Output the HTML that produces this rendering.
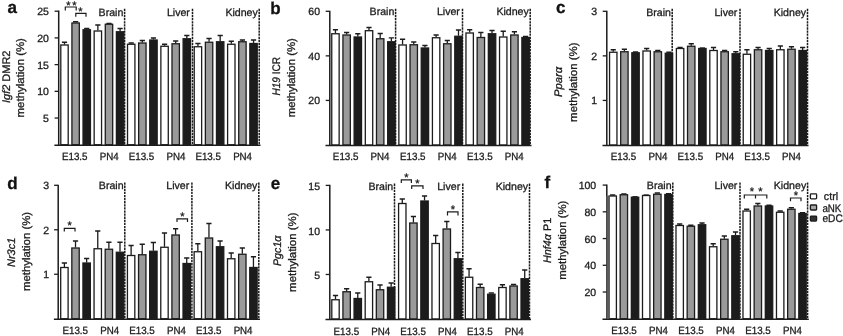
<!DOCTYPE html>
<html lang="en"><head><meta charset="utf-8"><title>Figure</title>
<style>html,body{margin:0;padding:0;background:#fff}svg{display:block}text{stroke:#1c1c1c;stroke-width:0.3px}</style>
</head><body>
<svg width="843" height="336" viewBox="0 0 843 336" text-rendering="geometricPrecision" font-family='"Liberation Sans", sans-serif' fill="#1c1c1c">
<rect width="843" height="336" fill="#fff"/>
<g id="panel-a">
<path d="M64.50 44.50V42.25M61.90 42.25H67.10" stroke="#1c1c1c" stroke-width="1.3" fill="none"/>
<rect x="60.80" y="45.00" width="7.4" height="99.75" fill="#ffffff" stroke="#1c1c1c" stroke-width="1.3"/>
<path d="M75.62 22.50V21.75M73.02 21.75H78.22" stroke="#1c1c1c" stroke-width="1.3" fill="none"/>
<rect x="71.92" y="23.00" width="7.4" height="121.75" fill="#9a9a9a" stroke="#1c1c1c" stroke-width="1.3"/>
<path d="M86.74 29.25V28.50M84.14 28.50H89.34" stroke="#1c1c1c" stroke-width="1.3" fill="none"/>
<rect x="83.04" y="29.75" width="7.4" height="115.00" fill="#1c1c1c" stroke="#1c1c1c" stroke-width="1.3"/>
<path d="M97.86 30.50V25.00M95.26 25.00H100.46" stroke="#1c1c1c" stroke-width="1.3" fill="none"/>
<rect x="94.16" y="31.00" width="7.4" height="113.75" fill="#ffffff" stroke="#1c1c1c" stroke-width="1.3"/>
<path d="M108.98 23.75V23.50M106.38 23.50H111.58" stroke="#1c1c1c" stroke-width="1.3" fill="none"/>
<rect x="105.28" y="24.25" width="7.4" height="120.50" fill="#9a9a9a" stroke="#1c1c1c" stroke-width="1.3"/>
<path d="M120.10 31.25V28.50M117.50 28.50H122.70" stroke="#1c1c1c" stroke-width="1.3" fill="none"/>
<rect x="116.40" y="31.75" width="7.4" height="113.00" fill="#1c1c1c" stroke="#1c1c1c" stroke-width="1.3"/>
<path d="M131.22 43.75V43.00M128.62 43.00H133.82" stroke="#1c1c1c" stroke-width="1.3" fill="none"/>
<rect x="127.52" y="44.25" width="7.4" height="100.50" fill="#ffffff" stroke="#1c1c1c" stroke-width="1.3"/>
<path d="M142.34 42.50V40.50M139.74 40.50H144.94" stroke="#1c1c1c" stroke-width="1.3" fill="none"/>
<rect x="138.64" y="43.00" width="7.4" height="101.75" fill="#9a9a9a" stroke="#1c1c1c" stroke-width="1.3"/>
<path d="M153.46 39.50V38.00M150.86 38.00H156.06" stroke="#1c1c1c" stroke-width="1.3" fill="none"/>
<rect x="149.76" y="40.00" width="7.4" height="104.75" fill="#1c1c1c" stroke="#1c1c1c" stroke-width="1.3"/>
<path d="M164.58 45.75V44.25M161.98 44.25H167.18" stroke="#1c1c1c" stroke-width="1.3" fill="none"/>
<rect x="160.88" y="46.25" width="7.4" height="98.50" fill="#ffffff" stroke="#1c1c1c" stroke-width="1.3"/>
<path d="M175.70 43.25V41.00M173.10 41.00H178.30" stroke="#1c1c1c" stroke-width="1.3" fill="none"/>
<rect x="172.00" y="43.75" width="7.4" height="101.00" fill="#9a9a9a" stroke="#1c1c1c" stroke-width="1.3"/>
<path d="M186.82 38.25V35.50M184.22 35.50H189.42" stroke="#1c1c1c" stroke-width="1.3" fill="none"/>
<rect x="183.12" y="38.75" width="7.4" height="106.00" fill="#1c1c1c" stroke="#1c1c1c" stroke-width="1.3"/>
<path d="M197.94 46.25V43.50M195.34 43.50H200.54" stroke="#1c1c1c" stroke-width="1.3" fill="none"/>
<rect x="194.24" y="46.75" width="7.4" height="98.00" fill="#ffffff" stroke="#1c1c1c" stroke-width="1.3"/>
<path d="M209.06 41.75V38.50M206.46 38.50H211.66" stroke="#1c1c1c" stroke-width="1.3" fill="none"/>
<rect x="205.36" y="42.25" width="7.4" height="102.50" fill="#9a9a9a" stroke="#1c1c1c" stroke-width="1.3"/>
<path d="M220.18 41.25V35.50M217.58 35.50H222.78" stroke="#1c1c1c" stroke-width="1.3" fill="none"/>
<rect x="216.48" y="41.75" width="7.4" height="103.00" fill="#1c1c1c" stroke="#1c1c1c" stroke-width="1.3"/>
<path d="M231.30 43.75V41.25M228.70 41.25H233.90" stroke="#1c1c1c" stroke-width="1.3" fill="none"/>
<rect x="227.60" y="44.25" width="7.4" height="100.50" fill="#ffffff" stroke="#1c1c1c" stroke-width="1.3"/>
<path d="M242.42 41.25V40.00M239.82 40.00H245.02" stroke="#1c1c1c" stroke-width="1.3" fill="none"/>
<rect x="238.72" y="41.75" width="7.4" height="103.00" fill="#9a9a9a" stroke="#1c1c1c" stroke-width="1.3"/>
<path d="M253.54 43.00V40.00M250.94 40.00H256.14" stroke="#1c1c1c" stroke-width="1.3" fill="none"/>
<rect x="249.84" y="43.50" width="7.4" height="101.25" fill="#1c1c1c" stroke="#1c1c1c" stroke-width="1.3"/>
<line x1="124.6" y1="8.75" x2="124.6" y2="144.75" stroke="#1c1c1c" stroke-width="1.5" stroke-dasharray="2.3 0.8"/>
<line x1="192.5" y1="8.75" x2="192.5" y2="144.75" stroke="#1c1c1c" stroke-width="1.5" stroke-dasharray="2.3 0.8"/>
<line x1="259.2" y1="8.75" x2="259.2" y2="144.75" stroke="#1c1c1c" stroke-width="1.5" stroke-dasharray="2.3 0.8"/>
<path d="M58.699999999999996 10.6V145.95M54.4 145.25H260.5" stroke="#1c1c1c" stroke-width="1.5" fill="none"/>
<line x1="54.6" y1="11.20" x2="58.4" y2="11.20" stroke="#1c1c1c" stroke-width="1.3"/>
<text x="48.9" y="15.20" font-size="10.5" text-anchor="end">25</text>
<line x1="54.6" y1="37.91" x2="58.4" y2="37.91" stroke="#1c1c1c" stroke-width="1.3"/>
<text x="48.9" y="41.91" font-size="10.5" text-anchor="end">20</text>
<line x1="54.6" y1="64.62" x2="58.4" y2="64.62" stroke="#1c1c1c" stroke-width="1.3"/>
<text x="48.9" y="68.62" font-size="10.5" text-anchor="end">15</text>
<line x1="54.6" y1="91.33" x2="58.4" y2="91.33" stroke="#1c1c1c" stroke-width="1.3"/>
<text x="48.9" y="95.33" font-size="10.5" text-anchor="end">10</text>
<line x1="54.6" y1="118.04" x2="58.4" y2="118.04" stroke="#1c1c1c" stroke-width="1.3"/>
<text x="48.9" y="122.04" font-size="10.5" text-anchor="end">5</text>
<text x="74.74" y="159.75" font-size="10.5" text-anchor="middle" textLength="25.6" lengthAdjust="spacingAndGlyphs">E13.5</text>
<text x="109.14" y="159.75" font-size="10.5" text-anchor="middle" textLength="18.9" lengthAdjust="spacingAndGlyphs">PN4</text>
<text x="141.46" y="159.75" font-size="10.5" text-anchor="middle" textLength="25.6" lengthAdjust="spacingAndGlyphs">E13.5</text>
<text x="175.86" y="159.75" font-size="10.5" text-anchor="middle" textLength="18.9" lengthAdjust="spacingAndGlyphs">PN4</text>
<text x="208.18" y="159.75" font-size="10.5" text-anchor="middle" textLength="25.6" lengthAdjust="spacingAndGlyphs">E13.5</text>
<text x="242.58" y="159.75" font-size="10.5" text-anchor="middle" textLength="18.9" lengthAdjust="spacingAndGlyphs">PN4</text>
<text x="123.35" y="15.90" font-size="10.6" text-anchor="end">Brain</text>
<text x="189.90" y="15.90" font-size="10.6" text-anchor="end">Liver</text>
<text x="257.80" y="15.90" font-size="10.6" text-anchor="end">Kidney</text>
<text x="7.6" y="13.4" font-size="17" font-weight="bold" fill="#111">a</text>
<text transform="translate(10 76.80) rotate(-90)" font-size="11" text-anchor="middle" textLength="52.4" lengthAdjust="spacingAndGlyphs"><tspan font-style="italic">Igf2</tspan> DMR2</text>
<text transform="translate(24.4 77.75) rotate(-90)" font-size="11" text-anchor="middle" textLength="79.3" lengthAdjust="spacingAndGlyphs">methylation (%)</text>
</g>
<g id="panel-b">
<path d="M335.45 33.25V29.75M332.85 29.75H338.05" stroke="#1c1c1c" stroke-width="1.3" fill="none"/>
<rect x="331.75" y="33.75" width="7.4" height="111.25" fill="#ffffff" stroke="#1c1c1c" stroke-width="1.3"/>
<path d="M346.63 34.50V32.50M344.03 32.50H349.24" stroke="#1c1c1c" stroke-width="1.3" fill="none"/>
<rect x="342.94" y="35.00" width="7.4" height="110.00" fill="#9a9a9a" stroke="#1c1c1c" stroke-width="1.3"/>
<path d="M357.82 36.50V33.75M355.22 33.75H360.42" stroke="#1c1c1c" stroke-width="1.3" fill="none"/>
<rect x="354.12" y="37.00" width="7.4" height="108.00" fill="#1c1c1c" stroke="#1c1c1c" stroke-width="1.3"/>
<path d="M369.00 30.20V27.50M366.40 27.50H371.61" stroke="#1c1c1c" stroke-width="1.3" fill="none"/>
<rect x="365.31" y="30.70" width="7.4" height="114.30" fill="#ffffff" stroke="#1c1c1c" stroke-width="1.3"/>
<path d="M380.19 38.25V33.50M377.59 33.50H382.79" stroke="#1c1c1c" stroke-width="1.3" fill="none"/>
<rect x="376.49" y="38.75" width="7.4" height="106.25" fill="#9a9a9a" stroke="#1c1c1c" stroke-width="1.3"/>
<path d="M391.38 41.25V37.90M388.77 37.90H393.98" stroke="#1c1c1c" stroke-width="1.3" fill="none"/>
<rect x="387.68" y="41.75" width="7.4" height="103.25" fill="#1c1c1c" stroke="#1c1c1c" stroke-width="1.3"/>
<path d="M402.56 44.50V39.25M399.96 39.25H405.16" stroke="#1c1c1c" stroke-width="1.3" fill="none"/>
<rect x="398.86" y="45.00" width="7.4" height="100.00" fill="#ffffff" stroke="#1c1c1c" stroke-width="1.3"/>
<path d="M413.75 44.25V42.00M411.14 42.00H416.35" stroke="#1c1c1c" stroke-width="1.3" fill="none"/>
<rect x="410.05" y="44.75" width="7.4" height="100.25" fill="#9a9a9a" stroke="#1c1c1c" stroke-width="1.3"/>
<path d="M424.93 47.50V45.50M422.33 45.50H427.53" stroke="#1c1c1c" stroke-width="1.3" fill="none"/>
<rect x="421.23" y="48.00" width="7.4" height="97.00" fill="#1c1c1c" stroke="#1c1c1c" stroke-width="1.3"/>
<path d="M436.12 37.25V35.00M433.51 35.00H438.72" stroke="#1c1c1c" stroke-width="1.3" fill="none"/>
<rect x="432.42" y="37.75" width="7.4" height="107.25" fill="#ffffff" stroke="#1c1c1c" stroke-width="1.3"/>
<path d="M447.30 43.25V40.50M444.70 40.50H449.90" stroke="#1c1c1c" stroke-width="1.3" fill="none"/>
<rect x="443.60" y="43.75" width="7.4" height="101.25" fill="#9a9a9a" stroke="#1c1c1c" stroke-width="1.3"/>
<path d="M458.49 35.75V30.00M455.88 30.00H461.09" stroke="#1c1c1c" stroke-width="1.3" fill="none"/>
<rect x="454.79" y="36.25" width="7.4" height="108.75" fill="#1c1c1c" stroke="#1c1c1c" stroke-width="1.3"/>
<path d="M469.67 32.50V29.75M467.07 29.75H472.27" stroke="#1c1c1c" stroke-width="1.3" fill="none"/>
<rect x="465.97" y="33.00" width="7.4" height="112.00" fill="#ffffff" stroke="#1c1c1c" stroke-width="1.3"/>
<path d="M480.86 37.00V32.50M478.25 32.50H483.46" stroke="#1c1c1c" stroke-width="1.3" fill="none"/>
<rect x="477.16" y="37.50" width="7.4" height="107.50" fill="#9a9a9a" stroke="#1c1c1c" stroke-width="1.3"/>
<path d="M492.04 33.25V30.50M489.44 30.50H494.64" stroke="#1c1c1c" stroke-width="1.3" fill="none"/>
<rect x="488.34" y="33.75" width="7.4" height="111.25" fill="#1c1c1c" stroke="#1c1c1c" stroke-width="1.3"/>
<path d="M503.23 36.50V31.25M500.62 31.25H505.83" stroke="#1c1c1c" stroke-width="1.3" fill="none"/>
<rect x="499.53" y="37.00" width="7.4" height="108.00" fill="#ffffff" stroke="#1c1c1c" stroke-width="1.3"/>
<path d="M514.41 34.50V31.75M511.81 31.75H517.01" stroke="#1c1c1c" stroke-width="1.3" fill="none"/>
<rect x="510.71" y="35.00" width="7.4" height="110.00" fill="#9a9a9a" stroke="#1c1c1c" stroke-width="1.3"/>
<path d="M525.60 37.00V36.50M523.00 36.50H528.20" stroke="#1c1c1c" stroke-width="1.3" fill="none"/>
<rect x="521.89" y="37.50" width="7.4" height="107.50" fill="#1c1c1c" stroke="#1c1c1c" stroke-width="1.3"/>
<line x1="395.6" y1="8.75" x2="395.6" y2="145" stroke="#1c1c1c" stroke-width="1.5" stroke-dasharray="2.3 0.8"/>
<line x1="462.5" y1="8.75" x2="462.5" y2="145" stroke="#1c1c1c" stroke-width="1.5" stroke-dasharray="2.3 0.8"/>
<line x1="530.2" y1="8.75" x2="530.2" y2="145" stroke="#1c1c1c" stroke-width="1.5" stroke-dasharray="2.3 0.8"/>
<path d="M329.8 10.700000000000001V146.2M325.5 145.5H531.5" stroke="#1c1c1c" stroke-width="1.5" fill="none"/>
<line x1="325.7" y1="11.30" x2="329.5" y2="11.30" stroke="#1c1c1c" stroke-width="1.3"/>
<text x="320.0" y="15.30" font-size="10.5" text-anchor="end">60</text>
<line x1="325.7" y1="55.87" x2="329.5" y2="55.87" stroke="#1c1c1c" stroke-width="1.3"/>
<text x="320.0" y="59.87" font-size="10.5" text-anchor="end">40</text>
<line x1="325.7" y1="100.43" x2="329.5" y2="100.43" stroke="#1c1c1c" stroke-width="1.3"/>
<text x="320.0" y="104.43" font-size="10.5" text-anchor="end">20</text>
<text x="345.66" y="160.00" font-size="10.5" text-anchor="middle" textLength="25.6" lengthAdjust="spacingAndGlyphs">E13.5</text>
<text x="380.06" y="160.00" font-size="10.5" text-anchor="middle" textLength="18.9" lengthAdjust="spacingAndGlyphs">PN4</text>
<text x="412.77" y="160.00" font-size="10.5" text-anchor="middle" textLength="25.6" lengthAdjust="spacingAndGlyphs">E13.5</text>
<text x="447.17" y="160.00" font-size="10.5" text-anchor="middle" textLength="18.9" lengthAdjust="spacingAndGlyphs">PN4</text>
<text x="479.88" y="160.00" font-size="10.5" text-anchor="middle" textLength="25.6" lengthAdjust="spacingAndGlyphs">E13.5</text>
<text x="514.28" y="160.00" font-size="10.5" text-anchor="middle" textLength="18.9" lengthAdjust="spacingAndGlyphs">PN4</text>
<text x="394.35" y="15.30" font-size="10.6" text-anchor="end">Brain</text>
<text x="459.90" y="15.30" font-size="10.6" text-anchor="end">Liver</text>
<text x="528.80" y="15.30" font-size="10.6" text-anchor="end">Kidney</text>
<text x="270.3" y="13.6" font-size="17" font-weight="bold" fill="#111">b</text>
<text transform="translate(280.4 76.25) rotate(-90)" font-size="11" text-anchor="middle" textLength="38.7" lengthAdjust="spacingAndGlyphs"><tspan font-style="italic">H19</tspan> ICR</text>
<text transform="translate(294.7 77.70) rotate(-90)" font-size="11" text-anchor="middle" textLength="79.2" lengthAdjust="spacingAndGlyphs">methylation (%)</text>
</g>
<g id="panel-c">
<path d="M613.25 51.75V49.75M610.65 49.75H615.85" stroke="#1c1c1c" stroke-width="1.3" fill="none"/>
<rect x="609.55" y="52.25" width="7.4" height="92.75" fill="#ffffff" stroke="#1c1c1c" stroke-width="1.3"/>
<path d="M624.39 51.25V49.25M621.79 49.25H626.99" stroke="#1c1c1c" stroke-width="1.3" fill="none"/>
<rect x="620.69" y="51.75" width="7.4" height="93.25" fill="#9a9a9a" stroke="#1c1c1c" stroke-width="1.3"/>
<path d="M635.53 52.25V52.00M632.93 52.00H638.13" stroke="#1c1c1c" stroke-width="1.3" fill="none"/>
<rect x="631.83" y="52.75" width="7.4" height="92.25" fill="#1c1c1c" stroke="#1c1c1c" stroke-width="1.3"/>
<path d="M646.67 50.50V48.50M644.07 48.50H649.27" stroke="#1c1c1c" stroke-width="1.3" fill="none"/>
<rect x="642.97" y="51.00" width="7.4" height="94.00" fill="#ffffff" stroke="#1c1c1c" stroke-width="1.3"/>
<path d="M657.81 51.25V50.50M655.21 50.50H660.41" stroke="#1c1c1c" stroke-width="1.3" fill="none"/>
<rect x="654.11" y="51.75" width="7.4" height="93.25" fill="#9a9a9a" stroke="#1c1c1c" stroke-width="1.3"/>
<path d="M668.95 52.75V52.25M666.35 52.25H671.55" stroke="#1c1c1c" stroke-width="1.3" fill="none"/>
<rect x="665.25" y="53.25" width="7.4" height="91.75" fill="#1c1c1c" stroke="#1c1c1c" stroke-width="1.3"/>
<path d="M680.09 48.00V47.50M677.49 47.50H682.69" stroke="#1c1c1c" stroke-width="1.3" fill="none"/>
<rect x="676.39" y="48.50" width="7.4" height="96.50" fill="#ffffff" stroke="#1c1c1c" stroke-width="1.3"/>
<path d="M691.23 45.75V43.75M688.63 43.75H693.83" stroke="#1c1c1c" stroke-width="1.3" fill="none"/>
<rect x="687.53" y="46.25" width="7.4" height="98.75" fill="#9a9a9a" stroke="#1c1c1c" stroke-width="1.3"/>
<path d="M702.37 48.00V48.00M699.77 48.00H704.97" stroke="#1c1c1c" stroke-width="1.3" fill="none"/>
<rect x="698.67" y="48.50" width="7.4" height="96.50" fill="#1c1c1c" stroke="#1c1c1c" stroke-width="1.3"/>
<path d="M713.51 50.00V47.50M710.91 47.50H716.11" stroke="#1c1c1c" stroke-width="1.3" fill="none"/>
<rect x="709.81" y="50.50" width="7.4" height="94.50" fill="#ffffff" stroke="#1c1c1c" stroke-width="1.3"/>
<path d="M724.65 51.25V50.50M722.05 50.50H727.25" stroke="#1c1c1c" stroke-width="1.3" fill="none"/>
<rect x="720.95" y="51.75" width="7.4" height="93.25" fill="#9a9a9a" stroke="#1c1c1c" stroke-width="1.3"/>
<path d="M735.79 53.25V51.75M733.19 51.75H738.39" stroke="#1c1c1c" stroke-width="1.3" fill="none"/>
<rect x="732.09" y="53.75" width="7.4" height="91.25" fill="#1c1c1c" stroke="#1c1c1c" stroke-width="1.3"/>
<path d="M746.93 53.75V49.75M744.33 49.75H749.53" stroke="#1c1c1c" stroke-width="1.3" fill="none"/>
<rect x="743.23" y="54.25" width="7.4" height="90.75" fill="#ffffff" stroke="#1c1c1c" stroke-width="1.3"/>
<path d="M758.07 49.25V47.50M755.47 47.50H760.67" stroke="#1c1c1c" stroke-width="1.3" fill="none"/>
<rect x="754.37" y="49.75" width="7.4" height="95.25" fill="#9a9a9a" stroke="#1c1c1c" stroke-width="1.3"/>
<path d="M769.21 50.00V48.50M766.61 48.50H771.81" stroke="#1c1c1c" stroke-width="1.3" fill="none"/>
<rect x="765.51" y="50.50" width="7.4" height="94.50" fill="#1c1c1c" stroke="#1c1c1c" stroke-width="1.3"/>
<path d="M780.35 49.25V46.00M777.75 46.00H782.95" stroke="#1c1c1c" stroke-width="1.3" fill="none"/>
<rect x="776.65" y="49.75" width="7.4" height="95.25" fill="#ffffff" stroke="#1c1c1c" stroke-width="1.3"/>
<path d="M791.49 48.75V46.75M788.89 46.75H794.09" stroke="#1c1c1c" stroke-width="1.3" fill="none"/>
<rect x="787.79" y="49.25" width="7.4" height="95.75" fill="#9a9a9a" stroke="#1c1c1c" stroke-width="1.3"/>
<path d="M802.63 50.00V47.50M800.03 47.50H805.23" stroke="#1c1c1c" stroke-width="1.3" fill="none"/>
<rect x="798.93" y="50.50" width="7.4" height="94.50" fill="#1c1c1c" stroke="#1c1c1c" stroke-width="1.3"/>
<line x1="672.2" y1="8.75" x2="672.2" y2="145" stroke="#1c1c1c" stroke-width="1.5" stroke-dasharray="2.3 0.8"/>
<line x1="740" y1="8.75" x2="740" y2="145" stroke="#1c1c1c" stroke-width="1.5" stroke-dasharray="2.3 0.8"/>
<line x1="807.5" y1="8.75" x2="807.5" y2="145" stroke="#1c1c1c" stroke-width="1.5" stroke-dasharray="2.3 0.8"/>
<path d="M606.8 10.700000000000001V146.2M602.5 145.5H808.5" stroke="#1c1c1c" stroke-width="1.5" fill="none"/>
<line x1="602.7" y1="11.30" x2="606.5" y2="11.30" stroke="#1c1c1c" stroke-width="1.3"/>
<text x="597.0" y="15.30" font-size="10.5" text-anchor="end">3</text>
<line x1="602.7" y1="55.87" x2="606.5" y2="55.87" stroke="#1c1c1c" stroke-width="1.3"/>
<text x="597.0" y="59.87" font-size="10.5" text-anchor="end">2</text>
<line x1="602.7" y1="100.43" x2="606.5" y2="100.43" stroke="#1c1c1c" stroke-width="1.3"/>
<text x="597.0" y="104.43" font-size="10.5" text-anchor="end">1</text>
<text x="623.48" y="160.00" font-size="10.5" text-anchor="middle" textLength="25.6" lengthAdjust="spacingAndGlyphs">E13.5</text>
<text x="657.88" y="160.00" font-size="10.5" text-anchor="middle" textLength="18.9" lengthAdjust="spacingAndGlyphs">PN4</text>
<text x="690.32" y="160.00" font-size="10.5" text-anchor="middle" textLength="25.6" lengthAdjust="spacingAndGlyphs">E13.5</text>
<text x="724.72" y="160.00" font-size="10.5" text-anchor="middle" textLength="18.9" lengthAdjust="spacingAndGlyphs">PN4</text>
<text x="757.16" y="160.00" font-size="10.5" text-anchor="middle" textLength="25.6" lengthAdjust="spacingAndGlyphs">E13.5</text>
<text x="791.56" y="160.00" font-size="10.5" text-anchor="middle" textLength="18.9" lengthAdjust="spacingAndGlyphs">PN4</text>
<text x="670.95" y="15.90" font-size="10.6" text-anchor="end">Brain</text>
<text x="737.40" y="15.90" font-size="10.6" text-anchor="end">Liver</text>
<text x="806.10" y="15.90" font-size="10.6" text-anchor="end">Kidney</text>
<text x="556.0" y="13.4" font-size="17" font-weight="bold" fill="#111">c</text>
<text transform="translate(562 81.95) rotate(-90)" font-size="11" text-anchor="middle" textLength="30.1" lengthAdjust="spacingAndGlyphs"><tspan font-style="italic">Pparα</tspan></text>
<text transform="translate(577.4 82.20) rotate(-90)" font-size="11" text-anchor="middle" textLength="79.4" lengthAdjust="spacingAndGlyphs">methylation (%)</text>
</g>
<g id="panel-d">
<path d="M64.40 267.00V263.00M61.80 263.00H67.00" stroke="#1c1c1c" stroke-width="1.3" fill="none"/>
<rect x="60.70" y="267.50" width="7.4" height="51.25" fill="#ffffff" stroke="#1c1c1c" stroke-width="1.3"/>
<path d="M75.52 247.50V241.00M72.92 241.00H78.12" stroke="#1c1c1c" stroke-width="1.3" fill="none"/>
<rect x="71.82" y="248.00" width="7.4" height="70.75" fill="#9a9a9a" stroke="#1c1c1c" stroke-width="1.3"/>
<path d="M86.64 262.50V258.50M84.04 258.50H89.24" stroke="#1c1c1c" stroke-width="1.3" fill="none"/>
<rect x="82.94" y="263.00" width="7.4" height="55.75" fill="#1c1c1c" stroke="#1c1c1c" stroke-width="1.3"/>
<path d="M97.76 248.25V231.00M95.16 231.00H100.36" stroke="#1c1c1c" stroke-width="1.3" fill="none"/>
<rect x="94.06" y="248.75" width="7.4" height="70.00" fill="#ffffff" stroke="#1c1c1c" stroke-width="1.3"/>
<path d="M108.88 248.75V242.25M106.28 242.25H111.48" stroke="#1c1c1c" stroke-width="1.3" fill="none"/>
<rect x="105.18" y="249.25" width="7.4" height="69.50" fill="#9a9a9a" stroke="#1c1c1c" stroke-width="1.3"/>
<path d="M120.00 251.75V242.25M117.40 242.25H122.60" stroke="#1c1c1c" stroke-width="1.3" fill="none"/>
<rect x="116.30" y="252.25" width="7.4" height="66.50" fill="#1c1c1c" stroke="#1c1c1c" stroke-width="1.3"/>
<path d="M131.12 255.00V245.50M128.52 245.50H133.72" stroke="#1c1c1c" stroke-width="1.3" fill="none"/>
<rect x="127.42" y="255.50" width="7.4" height="63.25" fill="#ffffff" stroke="#1c1c1c" stroke-width="1.3"/>
<path d="M142.24 254.25V244.25M139.64 244.25H144.84" stroke="#1c1c1c" stroke-width="1.3" fill="none"/>
<rect x="138.54" y="254.75" width="7.4" height="64.00" fill="#9a9a9a" stroke="#1c1c1c" stroke-width="1.3"/>
<path d="M153.36 250.75V242.50M150.76 242.50H155.96" stroke="#1c1c1c" stroke-width="1.3" fill="none"/>
<rect x="149.66" y="251.25" width="7.4" height="67.50" fill="#1c1c1c" stroke="#1c1c1c" stroke-width="1.3"/>
<path d="M164.48 246.75V233.00M161.88 233.00H167.08" stroke="#1c1c1c" stroke-width="1.3" fill="none"/>
<rect x="160.78" y="247.25" width="7.4" height="71.50" fill="#ffffff" stroke="#1c1c1c" stroke-width="1.3"/>
<path d="M175.60 234.50V228.75M173.00 228.75H178.20" stroke="#1c1c1c" stroke-width="1.3" fill="none"/>
<rect x="171.90" y="235.00" width="7.4" height="83.75" fill="#9a9a9a" stroke="#1c1c1c" stroke-width="1.3"/>
<path d="M186.72 263.00V258.00M184.12 258.00H189.32" stroke="#1c1c1c" stroke-width="1.3" fill="none"/>
<rect x="183.02" y="263.50" width="7.4" height="55.25" fill="#1c1c1c" stroke="#1c1c1c" stroke-width="1.3"/>
<path d="M197.84 251.25V243.75M195.24 243.75H200.44" stroke="#1c1c1c" stroke-width="1.3" fill="none"/>
<rect x="194.14" y="251.75" width="7.4" height="67.00" fill="#ffffff" stroke="#1c1c1c" stroke-width="1.3"/>
<path d="M208.96 237.50V223.50M206.36 223.50H211.56" stroke="#1c1c1c" stroke-width="1.3" fill="none"/>
<rect x="205.26" y="238.00" width="7.4" height="80.75" fill="#9a9a9a" stroke="#1c1c1c" stroke-width="1.3"/>
<path d="M220.08 246.25V241.00M217.48 241.00H222.68" stroke="#1c1c1c" stroke-width="1.3" fill="none"/>
<rect x="216.38" y="246.75" width="7.4" height="72.00" fill="#1c1c1c" stroke="#1c1c1c" stroke-width="1.3"/>
<path d="M231.20 258.25V253.00M228.60 253.00H233.80" stroke="#1c1c1c" stroke-width="1.3" fill="none"/>
<rect x="227.50" y="258.75" width="7.4" height="60.00" fill="#ffffff" stroke="#1c1c1c" stroke-width="1.3"/>
<path d="M242.32 253.75V248.00M239.72 248.00H244.92" stroke="#1c1c1c" stroke-width="1.3" fill="none"/>
<rect x="238.62" y="254.25" width="7.4" height="64.50" fill="#9a9a9a" stroke="#1c1c1c" stroke-width="1.3"/>
<path d="M253.44 267.00V256.75M250.84 256.75H256.04" stroke="#1c1c1c" stroke-width="1.3" fill="none"/>
<rect x="249.74" y="267.50" width="7.4" height="51.25" fill="#1c1c1c" stroke="#1c1c1c" stroke-width="1.3"/>
<line x1="124.8" y1="182.50" x2="124.8" y2="318.75" stroke="#1c1c1c" stroke-width="1.5" stroke-dasharray="2.3 0.8"/>
<line x1="191.9" y1="182.50" x2="191.9" y2="318.75" stroke="#1c1c1c" stroke-width="1.5" stroke-dasharray="2.3 0.8"/>
<line x1="258.8" y1="182.50" x2="258.8" y2="318.75" stroke="#1c1c1c" stroke-width="1.5" stroke-dasharray="2.3 0.8"/>
<path d="M58.199999999999996 184.70000000000002V319.95M53.9 319.25H260" stroke="#1c1c1c" stroke-width="1.5" fill="none"/>
<line x1="54.1" y1="185.30" x2="57.9" y2="185.30" stroke="#1c1c1c" stroke-width="1.3"/>
<text x="49.199999999999996" y="189.30" font-size="10.5" text-anchor="end">3</text>
<line x1="54.1" y1="229.78" x2="57.9" y2="229.78" stroke="#1c1c1c" stroke-width="1.3"/>
<text x="49.199999999999996" y="233.78" font-size="10.5" text-anchor="end">2</text>
<line x1="54.1" y1="274.27" x2="57.9" y2="274.27" stroke="#1c1c1c" stroke-width="1.3"/>
<text x="49.199999999999996" y="278.27" font-size="10.5" text-anchor="end">1</text>
<text x="75.24" y="334.25" font-size="10.5" text-anchor="middle" textLength="25.6" lengthAdjust="spacingAndGlyphs">E13.5</text>
<text x="109.64" y="334.25" font-size="10.5" text-anchor="middle" textLength="18.9" lengthAdjust="spacingAndGlyphs">PN4</text>
<text x="141.96" y="334.25" font-size="10.5" text-anchor="middle" textLength="25.6" lengthAdjust="spacingAndGlyphs">E13.5</text>
<text x="176.36" y="334.25" font-size="10.5" text-anchor="middle" textLength="18.9" lengthAdjust="spacingAndGlyphs">PN4</text>
<text x="208.68" y="334.25" font-size="10.5" text-anchor="middle" textLength="25.6" lengthAdjust="spacingAndGlyphs">E13.5</text>
<text x="243.08" y="334.25" font-size="10.5" text-anchor="middle" textLength="18.9" lengthAdjust="spacingAndGlyphs">PN4</text>
<text x="123.55" y="189.20" font-size="10.6" text-anchor="end">Brain</text>
<text x="189.30" y="189.20" font-size="10.6" text-anchor="end">Liver</text>
<text x="257.40" y="189.20" font-size="10.6" text-anchor="end">Kidney</text>
<text x="7.2" y="188.7" font-size="17" font-weight="bold" fill="#111">d</text>
<text transform="translate(15.4 252.38) rotate(-90)" font-size="11" text-anchor="middle" textLength="29.25" lengthAdjust="spacingAndGlyphs"><tspan font-style="italic">Nr3c1</tspan></text>
<text transform="translate(30.3 251.45) rotate(-90)" font-size="11" text-anchor="middle" textLength="79.1" lengthAdjust="spacingAndGlyphs">methylation (%)</text>
</g>
<g id="panel-e">
<path d="M335.50 299.25V295.50M332.90 295.50H338.10" stroke="#1c1c1c" stroke-width="1.3" fill="none"/>
<rect x="331.80" y="299.75" width="7.4" height="19.25" fill="#ffffff" stroke="#1c1c1c" stroke-width="1.3"/>
<path d="M346.63 291.25V288.75M344.03 288.75H349.23" stroke="#1c1c1c" stroke-width="1.3" fill="none"/>
<rect x="342.93" y="291.75" width="7.4" height="27.25" fill="#9a9a9a" stroke="#1c1c1c" stroke-width="1.3"/>
<path d="M357.76 298.00V293.00M355.16 293.00H360.36" stroke="#1c1c1c" stroke-width="1.3" fill="none"/>
<rect x="354.06" y="298.50" width="7.4" height="20.50" fill="#1c1c1c" stroke="#1c1c1c" stroke-width="1.3"/>
<path d="M368.89 281.25V277.25M366.29 277.25H371.49" stroke="#1c1c1c" stroke-width="1.3" fill="none"/>
<rect x="365.19" y="281.75" width="7.4" height="37.25" fill="#ffffff" stroke="#1c1c1c" stroke-width="1.3"/>
<path d="M380.02 289.25V285.00M377.42 285.00H382.62" stroke="#1c1c1c" stroke-width="1.3" fill="none"/>
<rect x="376.32" y="289.75" width="7.4" height="29.25" fill="#9a9a9a" stroke="#1c1c1c" stroke-width="1.3"/>
<path d="M391.15 286.75V283.00M388.55 283.00H393.75" stroke="#1c1c1c" stroke-width="1.3" fill="none"/>
<rect x="387.45" y="287.25" width="7.4" height="31.75" fill="#1c1c1c" stroke="#1c1c1c" stroke-width="1.3"/>
<path d="M402.28 203.00V199.00M399.68 199.00H404.88" stroke="#1c1c1c" stroke-width="1.3" fill="none"/>
<rect x="398.58" y="203.50" width="7.4" height="115.50" fill="#ffffff" stroke="#1c1c1c" stroke-width="1.3"/>
<path d="M413.41 222.50V216.50M410.81 216.50H416.01" stroke="#1c1c1c" stroke-width="1.3" fill="none"/>
<rect x="409.71" y="223.00" width="7.4" height="96.00" fill="#9a9a9a" stroke="#1c1c1c" stroke-width="1.3"/>
<path d="M424.54 200.50V196.00M421.94 196.00H427.14" stroke="#1c1c1c" stroke-width="1.3" fill="none"/>
<rect x="420.84" y="201.00" width="7.4" height="118.00" fill="#1c1c1c" stroke="#1c1c1c" stroke-width="1.3"/>
<path d="M435.67 243.00V235.50M433.07 235.50H438.27" stroke="#1c1c1c" stroke-width="1.3" fill="none"/>
<rect x="431.97" y="243.50" width="7.4" height="75.50" fill="#ffffff" stroke="#1c1c1c" stroke-width="1.3"/>
<path d="M446.80 228.50V221.50M444.20 221.50H449.40" stroke="#1c1c1c" stroke-width="1.3" fill="none"/>
<rect x="443.10" y="229.00" width="7.4" height="90.00" fill="#9a9a9a" stroke="#1c1c1c" stroke-width="1.3"/>
<path d="M457.93 258.25V252.50M455.33 252.50H460.53" stroke="#1c1c1c" stroke-width="1.3" fill="none"/>
<rect x="454.23" y="258.75" width="7.4" height="60.25" fill="#1c1c1c" stroke="#1c1c1c" stroke-width="1.3"/>
<path d="M469.06 276.75V268.75M466.46 268.75H471.66" stroke="#1c1c1c" stroke-width="1.3" fill="none"/>
<rect x="465.36" y="277.25" width="7.4" height="41.75" fill="#ffffff" stroke="#1c1c1c" stroke-width="1.3"/>
<path d="M480.19 287.00V284.25M477.59 284.25H482.79" stroke="#1c1c1c" stroke-width="1.3" fill="none"/>
<rect x="476.49" y="287.50" width="7.4" height="31.50" fill="#9a9a9a" stroke="#1c1c1c" stroke-width="1.3"/>
<path d="M491.32 293.75V293.00M488.72 293.00H493.92" stroke="#1c1c1c" stroke-width="1.3" fill="none"/>
<rect x="487.62" y="294.25" width="7.4" height="24.75" fill="#1c1c1c" stroke="#1c1c1c" stroke-width="1.3"/>
<path d="M502.45 287.00V284.75M499.85 284.75H505.05" stroke="#1c1c1c" stroke-width="1.3" fill="none"/>
<rect x="498.75" y="287.50" width="7.4" height="31.50" fill="#ffffff" stroke="#1c1c1c" stroke-width="1.3"/>
<path d="M513.58 285.50V284.50M510.98 284.50H516.18" stroke="#1c1c1c" stroke-width="1.3" fill="none"/>
<rect x="509.88" y="286.00" width="7.4" height="33.00" fill="#9a9a9a" stroke="#1c1c1c" stroke-width="1.3"/>
<path d="M524.71 278.25V270.00M522.11 270.00H527.31" stroke="#1c1c1c" stroke-width="1.3" fill="none"/>
<rect x="521.01" y="278.75" width="7.4" height="40.25" fill="#1c1c1c" stroke="#1c1c1c" stroke-width="1.3"/>
<line x1="394.5" y1="183.60" x2="394.5" y2="319" stroke="#1c1c1c" stroke-width="1.5" stroke-dasharray="2.3 0.8"/>
<line x1="462.8" y1="183.60" x2="462.8" y2="319" stroke="#1c1c1c" stroke-width="1.5" stroke-dasharray="2.3 0.8"/>
<line x1="529.5" y1="183.60" x2="529.5" y2="319" stroke="#1c1c1c" stroke-width="1.5" stroke-dasharray="2.3 0.8"/>
<path d="M329.8 184.8V320.2M325.5 319.5H531" stroke="#1c1c1c" stroke-width="1.5" fill="none"/>
<line x1="325.7" y1="185.40" x2="329.5" y2="185.40" stroke="#1c1c1c" stroke-width="1.3"/>
<text x="320.0" y="190.20" font-size="10.5" text-anchor="end">15</text>
<line x1="325.7" y1="229.93" x2="329.5" y2="229.93" stroke="#1c1c1c" stroke-width="1.3"/>
<text x="320.0" y="234.73" font-size="10.5" text-anchor="end">10</text>
<line x1="325.7" y1="274.47" x2="329.5" y2="274.47" stroke="#1c1c1c" stroke-width="1.3"/>
<text x="320.0" y="279.27" font-size="10.5" text-anchor="end">5</text>
<text x="346.34" y="334.50" font-size="10.5" text-anchor="middle" textLength="25.6" lengthAdjust="spacingAndGlyphs">E13.5</text>
<text x="380.74" y="334.50" font-size="10.5" text-anchor="middle" textLength="18.9" lengthAdjust="spacingAndGlyphs">PN4</text>
<text x="413.12" y="334.50" font-size="10.5" text-anchor="middle" textLength="25.6" lengthAdjust="spacingAndGlyphs">E13.5</text>
<text x="447.52" y="334.50" font-size="10.5" text-anchor="middle" textLength="18.9" lengthAdjust="spacingAndGlyphs">PN4</text>
<text x="479.90" y="334.50" font-size="10.5" text-anchor="middle" textLength="25.6" lengthAdjust="spacingAndGlyphs">E13.5</text>
<text x="514.30" y="334.50" font-size="10.5" text-anchor="middle" textLength="18.9" lengthAdjust="spacingAndGlyphs">PN4</text>
<text x="393.25" y="190.00" font-size="10.6" text-anchor="end">Brain</text>
<text x="460.20" y="190.00" font-size="10.6" text-anchor="end">Liver</text>
<text x="528.10" y="190.00" font-size="10.6" text-anchor="end">Kidney</text>
<text x="270.8" y="188.7" font-size="17" font-weight="bold" fill="#111">e</text>
<text transform="translate(280.5 250.80) rotate(-90)" font-size="11" text-anchor="middle" textLength="30.4" lengthAdjust="spacingAndGlyphs"><tspan font-style="italic">Pgc1α</tspan></text>
<text transform="translate(295.5 252.20) rotate(-90)" font-size="11" text-anchor="middle" textLength="79.4" lengthAdjust="spacingAndGlyphs">methylation (%)</text>
</g>
<g id="panel-f">
<path d="M612.70 195.50V195.00M610.10 195.00H615.30" stroke="#1c1c1c" stroke-width="1.3" fill="none"/>
<rect x="609.00" y="196.00" width="7.4" height="122.75" fill="#ffffff" stroke="#1c1c1c" stroke-width="1.3"/>
<path d="M623.87 194.25V194.00M621.26 194.00H626.47" stroke="#1c1c1c" stroke-width="1.3" fill="none"/>
<rect x="620.16" y="194.75" width="7.4" height="124.00" fill="#9a9a9a" stroke="#1c1c1c" stroke-width="1.3"/>
<path d="M635.03 196.75V196.75M632.43 196.75H637.63" stroke="#1c1c1c" stroke-width="1.3" fill="none"/>
<rect x="631.33" y="197.25" width="7.4" height="121.50" fill="#1c1c1c" stroke="#1c1c1c" stroke-width="1.3"/>
<path d="M646.20 195.00V195.00M643.60 195.00H648.80" stroke="#1c1c1c" stroke-width="1.3" fill="none"/>
<rect x="642.50" y="195.50" width="7.4" height="123.25" fill="#ffffff" stroke="#1c1c1c" stroke-width="1.3"/>
<path d="M657.36 193.75V193.00M654.76 193.00H659.96" stroke="#1c1c1c" stroke-width="1.3" fill="none"/>
<rect x="653.66" y="194.25" width="7.4" height="124.50" fill="#9a9a9a" stroke="#1c1c1c" stroke-width="1.3"/>
<path d="M668.53 194.00V193.75M665.93 193.75H671.13" stroke="#1c1c1c" stroke-width="1.3" fill="none"/>
<rect x="664.83" y="194.50" width="7.4" height="124.25" fill="#1c1c1c" stroke="#1c1c1c" stroke-width="1.3"/>
<path d="M679.69 225.00V224.00M677.09 224.00H682.29" stroke="#1c1c1c" stroke-width="1.3" fill="none"/>
<rect x="675.99" y="225.50" width="7.4" height="93.25" fill="#ffffff" stroke="#1c1c1c" stroke-width="1.3"/>
<path d="M690.86 225.75V225.25M688.25 225.25H693.46" stroke="#1c1c1c" stroke-width="1.3" fill="none"/>
<rect x="687.15" y="226.25" width="7.4" height="92.50" fill="#9a9a9a" stroke="#1c1c1c" stroke-width="1.3"/>
<path d="M702.02 224.25V223.00M699.42 223.00H704.62" stroke="#1c1c1c" stroke-width="1.3" fill="none"/>
<rect x="698.32" y="224.75" width="7.4" height="94.00" fill="#1c1c1c" stroke="#1c1c1c" stroke-width="1.3"/>
<path d="M713.19 246.25V243.75M710.59 243.75H715.79" stroke="#1c1c1c" stroke-width="1.3" fill="none"/>
<rect x="709.49" y="246.75" width="7.4" height="72.00" fill="#ffffff" stroke="#1c1c1c" stroke-width="1.3"/>
<path d="M724.35 238.75V236.00M721.75 236.00H726.95" stroke="#1c1c1c" stroke-width="1.3" fill="none"/>
<rect x="720.65" y="239.25" width="7.4" height="79.50" fill="#9a9a9a" stroke="#1c1c1c" stroke-width="1.3"/>
<path d="M735.52 235.25V232.00M732.92 232.00H738.12" stroke="#1c1c1c" stroke-width="1.3" fill="none"/>
<rect x="731.82" y="235.75" width="7.4" height="83.00" fill="#1c1c1c" stroke="#1c1c1c" stroke-width="1.3"/>
<path d="M746.68 210.50V209.25M744.08 209.25H749.28" stroke="#1c1c1c" stroke-width="1.3" fill="none"/>
<rect x="742.98" y="211.00" width="7.4" height="107.75" fill="#ffffff" stroke="#1c1c1c" stroke-width="1.3"/>
<path d="M757.85 205.50V203.50M755.25 203.50H760.45" stroke="#1c1c1c" stroke-width="1.3" fill="none"/>
<rect x="754.14" y="206.00" width="7.4" height="112.75" fill="#9a9a9a" stroke="#1c1c1c" stroke-width="1.3"/>
<path d="M769.01 205.50V205.25M766.41 205.25H771.61" stroke="#1c1c1c" stroke-width="1.3" fill="none"/>
<rect x="765.31" y="206.00" width="7.4" height="112.75" fill="#1c1c1c" stroke="#1c1c1c" stroke-width="1.3"/>
<path d="M780.18 211.75V211.00M777.58 211.00H782.78" stroke="#1c1c1c" stroke-width="1.3" fill="none"/>
<rect x="776.48" y="212.25" width="7.4" height="106.50" fill="#ffffff" stroke="#1c1c1c" stroke-width="1.3"/>
<path d="M791.34 208.75V207.75M788.74 207.75H793.94" stroke="#1c1c1c" stroke-width="1.3" fill="none"/>
<rect x="787.64" y="209.25" width="7.4" height="109.50" fill="#9a9a9a" stroke="#1c1c1c" stroke-width="1.3"/>
<path d="M802.50 213.00V212.75M799.90 212.75H805.11" stroke="#1c1c1c" stroke-width="1.3" fill="none"/>
<rect x="798.80" y="213.50" width="7.4" height="105.25" fill="#1c1c1c" stroke="#1c1c1c" stroke-width="1.3"/>
<line x1="672.8" y1="182.50" x2="672.8" y2="318.75" stroke="#1c1c1c" stroke-width="1.5" stroke-dasharray="2.3 0.8"/>
<line x1="740" y1="182.50" x2="740" y2="318.75" stroke="#1c1c1c" stroke-width="1.5" stroke-dasharray="2.3 0.8"/>
<line x1="807.6" y1="182.50" x2="807.6" y2="318.75" stroke="#1c1c1c" stroke-width="1.5" stroke-dasharray="2.3 0.8"/>
<path d="M606.8 184.5V319.95M602.5 319.25H808.8" stroke="#1c1c1c" stroke-width="1.5" fill="none"/>
<rect x="606.3" y="196" width="3.2" height="122.75" fill="#5c5c5c"/>
<line x1="602.7" y1="185.10" x2="606.5" y2="185.10" stroke="#1c1c1c" stroke-width="1.3"/>
<text x="596.2" y="189.10" font-size="10.5" text-anchor="end">100</text>
<line x1="602.7" y1="211.83" x2="606.5" y2="211.83" stroke="#1c1c1c" stroke-width="1.3"/>
<text x="596.2" y="215.83" font-size="10.5" text-anchor="end">80</text>
<line x1="602.7" y1="238.56" x2="606.5" y2="238.56" stroke="#1c1c1c" stroke-width="1.3"/>
<text x="596.2" y="242.56" font-size="10.5" text-anchor="end">60</text>
<line x1="602.7" y1="265.29" x2="606.5" y2="265.29" stroke="#1c1c1c" stroke-width="1.3"/>
<text x="596.2" y="269.29" font-size="10.5" text-anchor="end">40</text>
<line x1="602.7" y1="292.02" x2="606.5" y2="292.02" stroke="#1c1c1c" stroke-width="1.3"/>
<text x="596.2" y="296.02" font-size="10.5" text-anchor="end">20</text>
<text x="624.02" y="334.25" font-size="10.5" text-anchor="middle" textLength="25.6" lengthAdjust="spacingAndGlyphs">E13.5</text>
<text x="658.42" y="334.25" font-size="10.5" text-anchor="middle" textLength="18.9" lengthAdjust="spacingAndGlyphs">PN4</text>
<text x="691.01" y="334.25" font-size="10.5" text-anchor="middle" textLength="25.6" lengthAdjust="spacingAndGlyphs">E13.5</text>
<text x="725.41" y="334.25" font-size="10.5" text-anchor="middle" textLength="18.9" lengthAdjust="spacingAndGlyphs">PN4</text>
<text x="758.00" y="334.25" font-size="10.5" text-anchor="middle" textLength="25.6" lengthAdjust="spacingAndGlyphs">E13.5</text>
<text x="792.40" y="334.25" font-size="10.5" text-anchor="middle" textLength="18.9" lengthAdjust="spacingAndGlyphs">PN4</text>
<text x="671.55" y="189.20" font-size="10.6" text-anchor="end">Brain</text>
<text x="737.40" y="189.20" font-size="10.6" text-anchor="end">Liver</text>
<text x="806.20" y="189.20" font-size="10.6" text-anchor="end">Kidney</text>
<text x="544.5" y="188.4" font-size="17" font-weight="bold" fill="#111">f</text>
<text transform="translate(551.2 240.38) rotate(-90)" font-size="11" text-anchor="middle" textLength="45.25" lengthAdjust="spacingAndGlyphs"><tspan font-style="italic">Hnf4α</tspan> P1</text>
<text transform="translate(566.2 240.18) rotate(-90)" font-size="11" text-anchor="middle" textLength="79.15" lengthAdjust="spacingAndGlyphs">methylation (%)</text>
</g>
<g id="sig">
<path d="M65.3 10.6V7.0H76.2V10.6" stroke="#1c1c1c" stroke-width="1.2" fill="none"/>
<text x="68.4" y="8.8" font-size="11" text-anchor="middle" stroke="#1c1c1c" stroke-width="0.3">*</text>
<text x="74.4" y="8.8" font-size="11" text-anchor="middle" stroke="#1c1c1c" stroke-width="0.3">*</text>
<path d="M75.8 16.7V13.4H86.0V16.7" stroke="#1c1c1c" stroke-width="1.2" fill="none"/>
<text x="80.4" y="15.4" font-size="11" text-anchor="middle" stroke="#1c1c1c" stroke-width="0.3">*</text>
<path d="M64.3 231.4V228.3H75V231.4" stroke="#1c1c1c" stroke-width="1.2" fill="none"/>
<text x="69.6" y="228.6" font-size="11" text-anchor="middle" stroke="#1c1c1c" stroke-width="0.3">*</text>
<path d="M177 222V218.8H187.5V222" stroke="#1c1c1c" stroke-width="1.2" fill="none"/>
<text x="182.4" y="219.8" font-size="11" text-anchor="middle" stroke="#1c1c1c" stroke-width="0.3">*</text>
<path d="M401.3 183.0V179.8H411.4V183.0" stroke="#1c1c1c" stroke-width="1.2" fill="none"/>
<text x="406.5" y="180.5" font-size="11" text-anchor="middle" stroke="#1c1c1c" stroke-width="0.3">*</text>
<path d="M411.7 189.0V185.9H423.0V189.0" stroke="#1c1c1c" stroke-width="1.2" fill="none"/>
<text x="417.5" y="186.5" font-size="11" text-anchor="middle" stroke="#1c1c1c" stroke-width="0.3">*</text>
<path d="M447.5 215.5V211.9H458V215.5" stroke="#1c1c1c" stroke-width="1.2" fill="none"/>
<text x="452.8" y="213.4" font-size="11" text-anchor="middle" stroke="#1c1c1c" stroke-width="0.3">*</text>
<path d="M744.3 198.5V195H766.8V198.5M755.5 195V198.5" stroke="#1c1c1c" stroke-width="1.2" fill="none"/>
<text x="751.8" y="195.3" font-size="11" text-anchor="middle" stroke="#1c1c1c" stroke-width="0.3">*</text>
<text x="760.5" y="195.3" font-size="11" text-anchor="middle" stroke="#1c1c1c" stroke-width="0.3">*</text>
<path d="M790.5 201.3V198H801V201.3" stroke="#1c1c1c" stroke-width="1.2" fill="none"/>
<text x="796" y="199.0" font-size="11" text-anchor="middle" stroke="#1c1c1c" stroke-width="0.3">*</text>
</g>
<g id="legend">
<rect x="810.4" y="193.9" width="6.2" height="5.0" rx="0.8" fill="#fff" stroke="#1c1c1c" stroke-width="1.3"/>
<text x="823.8" y="200.4" font-size="11" textLength="14.3" lengthAdjust="spacingAndGlyphs">ctrl</text>
<rect x="810.4" y="205.0" width="6.2" height="5.0" rx="0.8" fill="#a8a8a8" stroke="#1c1c1c" stroke-width="1.3"/>
<text x="822.4" y="211.7" font-size="11" textLength="19.0" lengthAdjust="spacingAndGlyphs">aNK</text>
<rect x="810.4" y="216.1" width="6.2" height="5.0" rx="0.8" fill="#333" stroke="#1c1c1c" stroke-width="1.3"/>
<text x="822.4" y="222.2" font-size="11" textLength="20.4" lengthAdjust="spacingAndGlyphs">eDC</text>
</g>
</svg>
</body></html>
